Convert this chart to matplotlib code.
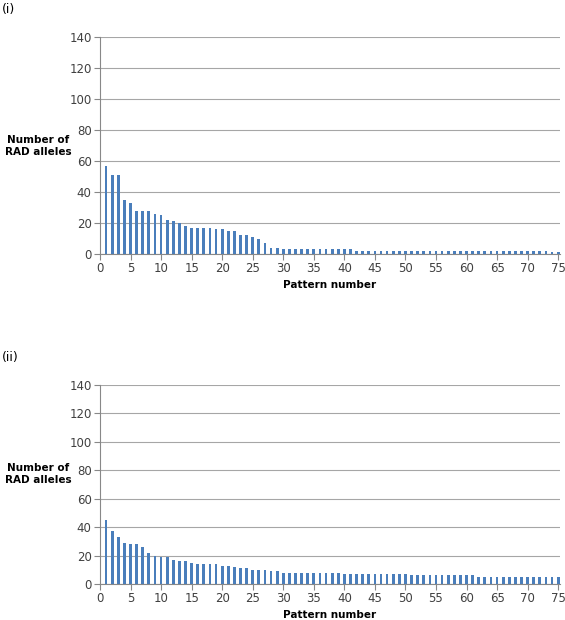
import matplotlib
matplotlib.use("Agg")
import matplotlib.pyplot as plt

# pattern numbers 1..75
patterns = list(range(1, 76))

alleles_i = [57, 51, 51, 35, 33, 28, 28, 28, 26, 25,
             22, 21, 20, 18, 17, 17, 17, 17, 16, 16,
             15, 15, 12, 12, 11, 10, 7, 4, 4, 3,
             3, 3, 3, 3, 3, 3, 3, 3, 3, 3,
             3, 2, 2, 2, 2, 2, 2, 2, 2, 2,
             2, 2, 2, 2, 2, 2, 2, 2, 2, 2,
             2, 2, 2, 2, 2, 2, 2, 2, 2, 2,
             2, 2, 2, 1, 1]

alleles_ii = [45, 37, 33, 29, 28, 28, 26, 22, 20, 19,
              19, 17, 16, 16, 15, 14, 14, 14, 14, 13,
              13, 12, 11, 11, 10, 10, 10, 9, 9, 8,
              8, 8, 8, 8, 8, 8, 8, 8, 8, 7,
              7, 7, 7, 7, 7, 7, 7, 7, 7, 7,
              6, 6, 6, 6, 6, 6, 6, 6, 6, 6,
              6, 5, 5, 5, 5, 5, 5, 5, 5, 5,
              5, 5, 5, 5, 5]

x_ticks = list(range(0, 76, 5))
y_ticks = list(range(0, 141, 20))

BAR_COLOR = "#4a7ebb"
GRID_COLOR = "#a6a6a6"

W, H = 565, 620
fig = plt.figure(figsize=(W / 100, H / 100), dpi=100)


def panel(bottom_px, top_px, values, tag, tag_y, label_y):
    ax = fig.add_axes([100 / W, 1 - bottom_px / H, 460 / W, (bottom_px - top_px) / H])
    ax.bar(patterns, values, width=0.45, color=BAR_COLOR, zorder=3)
    ax.set_xlim(0, 75.3)
    ax.set_ylim(0, 140)
    ax.set_xticks(x_ticks)
    ax.set_yticks(y_ticks)
    ax.grid(True, axis="y", color=GRID_COLOR, linewidth=0.8, zorder=0)
    for side in ("top", "right"):
        ax.spines[side].set_visible(False)
    for side in ("left", "bottom"):
        ax.spines[side].set_color("#888888")
        ax.spines[side].set_linewidth(0.8)
    ax.tick_params(axis="both", labelsize=8.5, colors="#888888", labelcolor="#404040",
                   length=4, width=0.8, pad=2)
    ax.set_xlabel("Pattern number", fontsize=7.5, fontweight="bold", labelpad=3)
    fig.text(38 / W, 1 - label_y / H, "Number of\nRAD alleles", fontsize=7.5,
             fontweight="bold", ha="center", va="center", linespacing=1.2)
    fig.text(2 / W, 1 - tag_y / H, tag, fontsize=9, ha="left", va="center")
    return ax


panel(254, 37, alleles_i, "(i)", 10, 146)
panel(584, 385, alleles_ii, "(ii)", 357, 474)

fig.savefig("out.png", dpi=100)
